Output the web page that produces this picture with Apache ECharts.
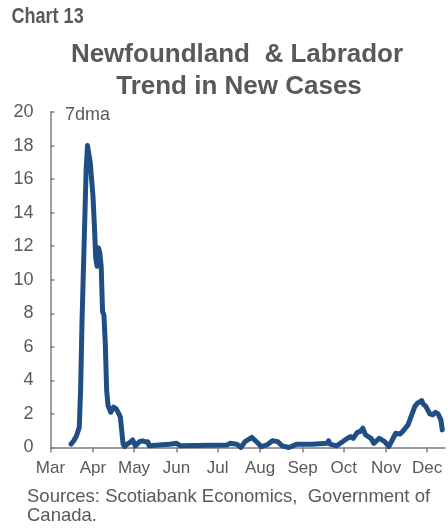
<!DOCTYPE html>
<html>
<head>
<meta charset="utf-8">
<style>
  html, body { margin: 0; padding: 0; background: #ffffff; }
  #chart { width: 448px; height: 531px; }
</style>
<script src="https://cdn.jsdelivr.net/npm/echarts@6/dist/echarts.min.js"></script>
</head>
<body>
<div id="chart"></div>
<script>
// Newfoundland & Labrador: 7-day moving average of new COVID-19 cases, 2020
const dates = [
  '2020-03-16', '2020-03-18', '2020-03-20', '2020-03-22', '2020-03-23', '2020-03-24',
  '2020-03-25', '2020-03-26', '2020-03-27', '2020-03-28', '2020-03-29', '2020-03-30',
  '2020-03-31', '2020-04-01', '2020-04-02', '2020-04-03', '2020-04-04', '2020-04-05',
  '2020-04-06', '2020-04-07', '2020-04-08', '2020-04-09', '2020-04-10', '2020-04-11',
  '2020-04-12', '2020-04-14', '2020-04-16', '2020-04-17', '2020-04-18', '2020-04-20',
  '2020-04-21', '2020-04-23', '2020-04-24', '2020-04-26', '2020-04-28', '2020-04-30',
  '2020-05-01', '2020-05-02', '2020-05-03', '2020-05-05', '2020-05-07', '2020-05-09',
  '2020-05-11', '2020-05-12', '2020-05-13', '2020-05-27', '2020-06-01', '2020-06-04',
  '2020-06-05', '2020-07-08', '2020-07-10', '2020-07-15', '2020-07-18', '2020-07-21',
  '2020-07-26', '2020-07-30', '2020-08-02', '2020-08-06', '2020-08-10', '2020-08-14',
  '2020-08-17', '2020-08-22', '2020-08-28', '2020-09-08', '2020-09-19', '2020-09-20',
  '2020-09-21', '2020-09-26', '2020-10-02', '2020-10-06', '2020-10-08', '2020-10-11',
  '2020-10-13', '2020-10-15', '2020-10-17', '2020-10-21', '2020-10-23', '2020-10-27',
  '2020-10-31', '2020-11-03', '2020-11-08', '2020-11-11', '2020-11-13', '2020-11-17',
  '2020-11-19', '2020-11-22', '2020-11-24', '2020-11-27', '2020-11-28', '2020-11-30',
  '2020-12-03', '2020-12-05', '2020-12-07', '2020-12-09', '2020-12-11', '2020-12-12'
];
const newCases7dma = [
  0.2, 0.4, 0.7, 1.2, 3.5, 7.5,
  10.5, 13.5, 16.5, 18.0, 17.9, 17.0,
  16.0, 15.0, 13.3, 11.3, 10.8, 11.9,
  11.6, 10.8, 8.1, 7.9, 6.2, 3.4,
  2.5, 2.1, 2.4, 2.5, 2.3, 2.0,
  1.8, 0.2, 0.05, 0.2, 0.3, 0.45,
  0.35, 0.1, 0.15, 0.35, 0.4, 0.35,
  0.35, 0.1, 0, 0.2, 0.25, 0.1,
  0, 0.15, 0.25, 0.2, 0, 0.35,
  0.6, 0.3, 0.05, 0.15, 0.4, 0.35,
  0.1, 0, 0.2, 0.2, 0.25, 0.4,
  0.2, 0.1, 0.45, 0.65, 0.55, 0.9,
  0.95, 1.15, 0.75, 0.55, 0.25, 0.55,
  0.35, 0.05, 0.85, 0.8, 0.95, 1.35,
  1.8, 2.45, 2.65, 2.8, 2.6, 2.45,
  2.0, 1.95, 2.1, 2.0, 1.65, 1.05
];
const monthLabels = ['Jan', 'Feb', 'Mar', 'Apr', 'May', 'Jun', 'Jul', 'Aug', 'Sep', 'Oct', 'Nov', 'Dec'];
const axisStart = '2020-03-01';
const axisEnd = '2020-12-14';

const textGrey = '#595959';
const axisGrey = '#7f7f7f';
const lineBlue = '#1f4e84';

const chart = echarts.init(document.getElementById('chart'), null, { renderer: 'canvas' });
const DAY = 86400000;

chart.setOption({
  animation: false,
  backgroundColor: '#ffffff',
  grid: { left: 50.5, right: 3, top: 112, bottom: 83.5, containLabel: false },
  graphic: [
    {
      // condensed bold label in the top-left corner
      type: 'text', x: 11.5, y: 16.5, scaleX: 0.82, scaleY: 1,
      style: { text: 'Chart 13', fill: textGrey, verticalAlign: 'middle',
               font: 'bold 22px "Liberation Sans", Arial, sans-serif' }
    },
    {
      type: 'text', x: 237, y: 54.5,
      style: { text: 'Newfoundland  & Labrador', fill: textGrey, align: 'center', verticalAlign: 'middle',
               font: 'bold 26px "Liberation Sans", Arial, sans-serif' }
    },
    {
      type: 'text', x: 239, y: 86.5,
      style: { text: 'Trend in New Cases', fill: textGrey, align: 'center', verticalAlign: 'middle',
               font: 'bold 26px "Liberation Sans", Arial, sans-serif' }
    },
    {
      type: 'text', x: 65, y: 115,
      style: { text: '7dma', fill: textGrey, verticalAlign: 'middle', font: '18px "Liberation Sans", Arial, sans-serif' }
    },
    {
      type: 'text', x: 27, y: 497,
      style: { text: 'Sources: Scotiabank Economics,  Government of', fill: textGrey, verticalAlign: 'middle',
               font: '18.5px "Liberation Sans", Arial, sans-serif' }
    },
    {
      type: 'text', x: 27, y: 515.5,
      style: { text: 'Canada.', fill: textGrey, verticalAlign: 'middle', font: '18.5px "Liberation Sans", Arial, sans-serif' }
    }
  ],
  xAxis: {
    type: 'time',
    min: axisStart,
    max: axisEnd,
    minInterval: 28 * DAY,
    maxInterval: 31 * DAY,
    axisLine: { lineStyle: { color: axisGrey, width: 1.5 } },
    axisTick: { show: true, length: 5, inside: false, lineStyle: { color: axisGrey, width: 1.5 } },
    splitLine: { show: false },
    axisLabel: {
      color: textGrey, fontSize: 17, fontFamily: '"Liberation Sans", Arial, sans-serif', margin: 12,
      showMaxLabel: false,
      formatter: function (val) { return monthLabels[new Date(val).getMonth()]; }
    }
  },
  yAxis: {
    type: 'value',
    min: 0, max: 20, interval: 2,
    axisLine: { show: true, lineStyle: { color: axisGrey, width: 1.5 } },
    axisTick: { show: true, inside: true, length: 4, lineStyle: { color: axisGrey, width: 1.5 } },
    splitLine: { show: false },
    axisLabel: { color: textGrey, fontSize: 18, fontFamily: '"Liberation Sans", Arial, sans-serif', margin: 17 }
  },
  series: [{
    type: 'line',
    name: 'Newfoundland & Labrador',
    data: dates.map((d, i) => [d, newCases7dma[i]]),
    showSymbol: false,
    smooth: false,
    lineStyle: { color: lineBlue, width: 5, cap: 'round', join: 'round' },
    itemStyle: { color: lineBlue }
  }]
});
</script>
</body>
</html>
